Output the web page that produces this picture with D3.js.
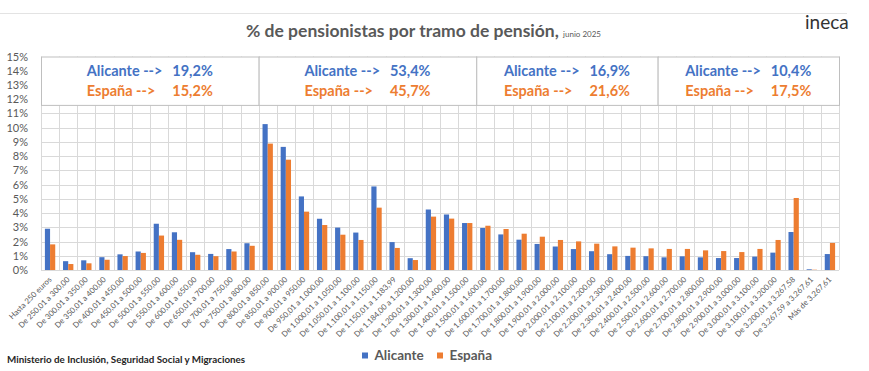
<!DOCTYPE html>
<html>
<head>
<meta charset="utf-8">
<script src="https://cdn.jsdelivr.net/npm/d3@7"></script>
<style>
  body { margin: 0; background: #fff; }
  svg { display: block; font-family: Lato, "Open Sans", sans-serif; }
</style>
</head>
<body>
<svg id="chart" width="869" height="371"></svg>
<script>
const categories = [
  "Hasta 250 euros", "De 250,01 a 300,00", "De 300,01 a 350,00", "De 350,01 a 400,00",
  "De 400,01 a 450,00", "De 450,01 a 500,00", "De 500,01 a 550,00", "De 550,01 a 600,00",
  "De 600,01 a 650,00", "De 650,01 a 700,00", "De 700,01 a 750,00", "De 750,01 a 800,00",
  "De 800,01 a 850,00", "De 850,01 a 900,00", "De 900,01 a 950,00", "De 950,01 a 1.000,00",
  "De 1.000,01 a 1.050,00", "De 1.050,01 a 1.100,00", "De 1.100,01 a 1.150,00", "De 1.150,01 a 1.183,99",
  "De 1.184,00 a 1.200,00", "De 1.200,01 a 1.300,00", "De 1.300,01 a 1.400,00", "De 1.400,01 a 1.500,00",
  "De 1.500,01 a 1.600,00", "De 1.600,01 a 1.700,00", "De 1.700,01 a 1.800,00", "De 1.800,01 a 1.900,00",
  "De 1.900,01 a 2.000,00", "De 2.000,01 a 2.100,00", "De 2.100,01 a 2.200,00", "De 2.200,01 a 2.300,00",
  "De 2.300,01 a 2.400,00", "De 2.400,01 a 2.500,00", "De 2.500,01 a 2.600,00", "De 2.600,01 a 2.700,00",
  "De 2.700,01 a 2.800,00", "De 2.800,01 a 2.900,00", "De 2.900,01 a 3.000,00", "De 3.000,01 a 3.100,00",
  "De 3.100,01 a 3.200,00", "De 3.200,01 a 3.267,58", "De 3.267,59 a 3.267,61", "Más de 3.267,61"
];

const alicante = [
  2.9, 0.62, 0.68, 0.9, 1.1, 1.3, 3.25, 2.65, 1.25, 1.13, 1.47, 1.88,
  10.25, 8.65, 5.17, 3.6, 2.98, 2.63, 5.87, 1.96, 0.83, 4.25, 3.9, 3.3,
  2.95, 2.5, 2.13, 1.83, 1.65, 1.47, 1.32, 1.11, 0.99, 0.97,
  0.89, 0.96, 0.89, 0.84, 0.84, 0.94, 1.22, 2.67, 0.05, 1.12
];

const espana = [
  1.8, 0.42, 0.47, 0.72, 0.98, 1.2, 2.42, 2.12, 1.07, 0.97, 1.3, 1.7,
  8.88, 7.75, 4.1, 3.16, 2.48, 2.11, 4.38, 1.55, 0.7, 3.75, 3.61, 3.3,
  3.11, 2.88, 2.55, 2.34, 2.11, 2.01, 1.85, 1.66, 1.57, 1.52,
  1.48, 1.48, 1.38, 1.33, 1.26, 1.48, 2.11, 5.06, 0.02, 1.9
];

const seriesNames = ["Alicante", "España"];
const seriesColors = ["#4472C4", "#ED7D31"];
const yTicks = d3.range(0, 16);

// summary boxes: first/last category index and the totals shown
const boxFrom = [0, 12, 24, 34];
const boxTo = [11, 23, 33, 43];
const boxAlicante = ["19,2%", "53,4%", "16,9%", "10,4%"];
const boxEspana = ["15,2%", "45,7%", "21,6%", "17,5%"];

const data = categories.map((c, i) => ({ cat: c, values: [alicante[i], espana[i]] }));

const svg = d3.select("#chart");
const plotLeft = 41, plotRight = 839, plotTop = 56.5, plotBottom = 270;
const textGray = "#595959";

const x = d3.scaleBand()
  .domain(categories)
  .range([plotLeft, plotRight])
  .paddingInner(0.43)
  .paddingOuter(0.215);

const x1 = d3.scaleBand()
  .domain(seriesNames)
  .range([0, x.bandwidth()]);

const y = d3.scaleLinear()
  .domain([0, 15])
  .range([plotBottom, plotTop]);

const step = x.step();

// decorative top rule
svg.append("line")
  .attr("x1", 0).attr("x2", 847)
  .attr("y1", 13.5).attr("y2", 13.5)
  .attr("stroke", "#E3E3E3");

// Gridlines
svg.append("g")
  .selectAll("line")
  .data(yTicks)
  .join("line")
  .attr("x1", plotLeft).attr("x2", plotRight)
  .attr("y1", d => Math.round(y(d)) + 0.5)
  .attr("y2", d => Math.round(y(d)) + 0.5)
  .attr("stroke", "#D9D9D9");

svg.append("g")
  .selectAll("line")
  .data(d3.range(0, categories.length + 1))
  .join("line")
  .attr("x1", d => Math.round(plotLeft + d * step) + 0.5)
  .attr("x2", d => Math.round(plotLeft + d * step) + 0.5)
  .attr("y1", plotTop).attr("y2", plotBottom)
  .attr("stroke", "#D9D9D9");

// Bars
const groups = svg.append("g")
  .selectAll("g")
  .data(data)
  .join("g")
  .attr("transform", d => `translate(${x(d.cat)},0)`);

groups.selectAll("rect")
  .data(d => d.values.map((v, i) => ({ key: seriesNames[i], value: v, i })))
  .join("rect")
  .attr("x", d => x1(d.key))
  .attr("y", d => y(d.value))
  .attr("width", x1.bandwidth())
  .attr("height", d => plotBottom - y(d.value))
  .attr("fill", d => seriesColors[d.i]);

// Y axis labels
const yAxis = d3.axisLeft(y)
  .tickValues(yTicks)
  .tickFormat(d => d + "%")
  .tickSize(0)
  .tickPadding(0);

svg.append("g")
  .attr("transform", `translate(28,0)`)
  .call(yAxis)
  .call(g => g.select(".domain").remove())
  .selectAll("text")
  .attr("fill", textGray)
  .style("font-size", "11px")
  .style("font-family", "Lato, sans-serif");

// X axis labels
const xAxis = d3.axisBottom(x).tickSize(0).tickPadding(0);

svg.append("g")
  .attr("transform", `translate(0,${plotBottom})`)
  .call(xAxis)
  .call(g => g.select(".domain").remove())
  .selectAll("text")
  .attr("fill", textGray)
  .attr("text-anchor", "end")
  .attr("dy", 0)
  .attr("y", 0)
  .attr("transform", "translate(2,10) rotate(-45)")
  .style("font-size", "7.8px")
  .style("font-family", "Lato, sans-serif");

// Summary boxes over the top of the plot
const boxes = svg.append("g")
  .selectAll("g")
  .data(boxFrom.map((f, i) => ({ from: f, to: boxTo[i], a: boxAlicante[i], e: boxEspana[i] })))
  .join("g");

const boxLeft = d => x(categories[d.from]) - step * x.paddingOuter();

boxes.append("rect")
  .attr("x", d => boxLeft(d) + 0.5)
  .attr("y", y(15) + 0.5)
  .attr("width", d => (d.to - d.from + 1) * step)
  .attr("height", y(11.6) - y(15))
  .attr("fill", "#fff")
  .attr("stroke", "#BFBFBF");

const boxCenter = d => boxLeft(d) + (d.to - d.from + 1) * step / 2;
const boxFont = "14.5px";

boxes.append("text")
  .attr("x", d => boxCenter(d) - 63)
  .attr("y", 76)
  .attr("fill", seriesColors[0])
  .style("font-size", boxFont)
  .style("font-weight", "bold")
  .text("Alicante -->");

boxes.append("text")
  .attr("x", d => boxCenter(d) + 63)
  .attr("y", 76)
  .attr("text-anchor", "end")
  .attr("fill", seriesColors[0])
  .style("font-size", boxFont)
  .style("font-weight", "bold")
  .text(d => d.a);

boxes.append("text")
  .attr("x", d => boxCenter(d) - 63)
  .attr("y", 96)
  .attr("fill", seriesColors[1])
  .style("font-size", boxFont)
  .style("font-weight", "bold")
  .text("España -->");

boxes.append("text")
  .attr("x", d => boxCenter(d) + 63)
  .attr("y", 96)
  .attr("text-anchor", "end")
  .attr("fill", seriesColors[1])
  .style("font-size", boxFont)
  .style("font-weight", "bold")
  .text(d => d.e);

// Title
const title = svg.append("text")
  .attr("x", 246)
  .attr("y", 37)
  .attr("fill", textGray)
  .style("font-size", "17.5px")
  .style("font-weight", "bold");
title.append("tspan").text("% de pensionistas por tramo de pensión, ");
title.append("tspan").style("font-size", "8px").style("font-weight", "normal").text("junio 2025");

svg.append("text")
  .attr("x", 805)
  .attr("y", 29)
  .attr("fill", "#333")
  .style("font-size", "19px")
  .text("ineca");

// Legend
const legend = svg.append("g")
  .selectAll("g")
  .data(seriesNames)
  .join("g")
  .attr("transform", (d, i) => `translate(${i === 0 ? 362 : 437},0)`);

legend.append("rect")
  .attr("y", 352.5)
  .attr("width", 6)
  .attr("height", 6)
  .attr("fill", (d, i) => seriesColors[i]);

legend.append("text")
  .attr("x", 12.5)
  .attr("y", 360)
  .attr("fill", textGray)
  .style("font-size", "13.5px")
  .style("font-weight", "bold")
  .text(d => d);

// Source
svg.append("text")
  .attr("x", 7)
  .attr("y", 363)
  .attr("fill", "#262626")
  .style("font-size", "9.8px")
  .style("font-weight", "bold")
  .text("Ministerio de Inclusión, Seguridad Social y Migraciones");
</script>
</body>
</html>
